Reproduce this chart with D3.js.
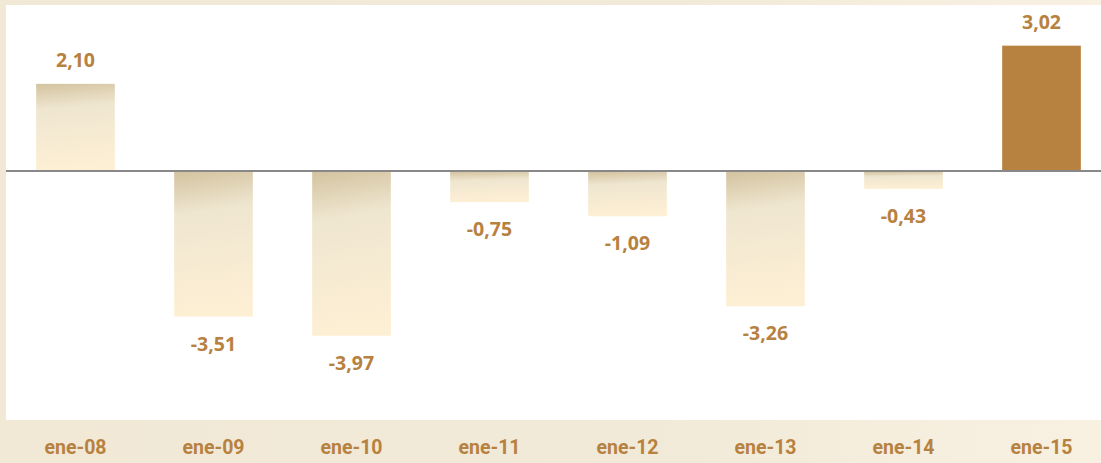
<!DOCTYPE html>
<html><head><meta charset="utf-8">
<script src="https://cdn.jsdelivr.net/npm/d3@7"></script>
<style>html,body{margin:0;padding:0;background:#f1e9d6;}svg{display:block;}</style>
</head><body>
<svg id="chart" width="1101" height="463"></svg>
<script>
const categories = ["ene-08","ene-09","ene-10","ene-11","ene-12","ene-13","ene-14","ene-15"];
const values = [2.10,-3.51,-3.97,-0.75,-1.09,-3.26,-0.43,3.02];
const valueLabels = ["2,10","-3,51","-3,97","-0,75","-1,09","-3,26","-0,43","3,02"];

const W = 1101, H = 463;
const svg = d3.select("#chart");
const defs = svg.append("defs");

const bg = defs.append("linearGradient").attr("id","band").attr("x1",0).attr("x2",1).attr("y1",0).attr("y2",0);
bg.append("stop").attr("offset","0%").attr("stop-color","#f1e9d6");
bg.append("stop").attr("offset","60%").attr("stop-color","#f2ead8");
bg.append("stop").attr("offset","100%").attr("stop-color","#f8f1e2");

const g = defs.append("linearGradient").attr("id","barg").attr("x1",0).attr("x2",0.08).attr("y1",0).attr("y2",1);
g.append("stop").attr("offset","0%").attr("stop-color","#d3c39f");
g.append("stop").attr("offset","30%").attr("stop-color","#efe6d0");
g.append("stop").attr("offset","100%").attr("stop-color","#fdefd4");

svg.append("rect").attr("x",0).attr("y",0).attr("width",W).attr("height",H).attr("fill","url(#band)");
svg.append("rect").attr("x",6).attr("y",5).attr("width",W-6).attr("height",415).attr("fill","#ffffff");

const x = d3.scaleBand().domain(categories).range([6.5, 6.5 + 138*8]).paddingInner(0.43).paddingOuter(0.215);
const y = d3.scaleLinear().domain([-4, 3]).range([171 + 4*41.5, 171 - 3*41.5]);

svg.append("g").selectAll("rect").data(categories).join("rect")
  .attr("x", d => x(d))
  .attr("width", x.bandwidth())
  .attr("y", (d,i) => values[i] >= 0 ? y(values[i]) : y(0)+1)
  .attr("height", (d,i) => Math.abs(y(values[i]) - y(0)) - (values[i] < 0 ? 1 : 0))
  .attr("fill", (d,i) => i === categories.length-1 ? "#b7813f" : "url(#barg)");

svg.append("line").attr("x1",6).attr("x2",W).attr("y1",y(0)).attr("y2",y(0))
  .attr("stroke","#888888").attr("stroke-width",2);

svg.append("g").selectAll("text").data(categories).join("text")
  .attr("x", d => x(d) + x.bandwidth()/2)
  .attr("y", (d,i) => values[i] >= 0 ? y(values[i]) - 17 : y(values[i]) + 34)
  .attr("text-anchor","middle")
  .attr("font-family","'Open Sans', sans-serif")
  .attr("font-weight","bold")
  .attr("font-size","19.5px")
  .attr("fill","#b7813f")
  .text((d,i) => valueLabels[i]);

const xAxis = svg.append("g").attr("transform","translate(0,454)")
  .call(d3.axisBottom(x).tickSize(0).tickPadding(0));
xAxis.select(".domain").remove();
xAxis.selectAll("text")
  .attr("dy",0).attr("y",0)
  .attr("font-family","Roboto, sans-serif")
  .attr("font-weight","bold")
  .attr("font-size","19.5px")
  .attr("fill","#b7813f");
</script>
</body></html>
